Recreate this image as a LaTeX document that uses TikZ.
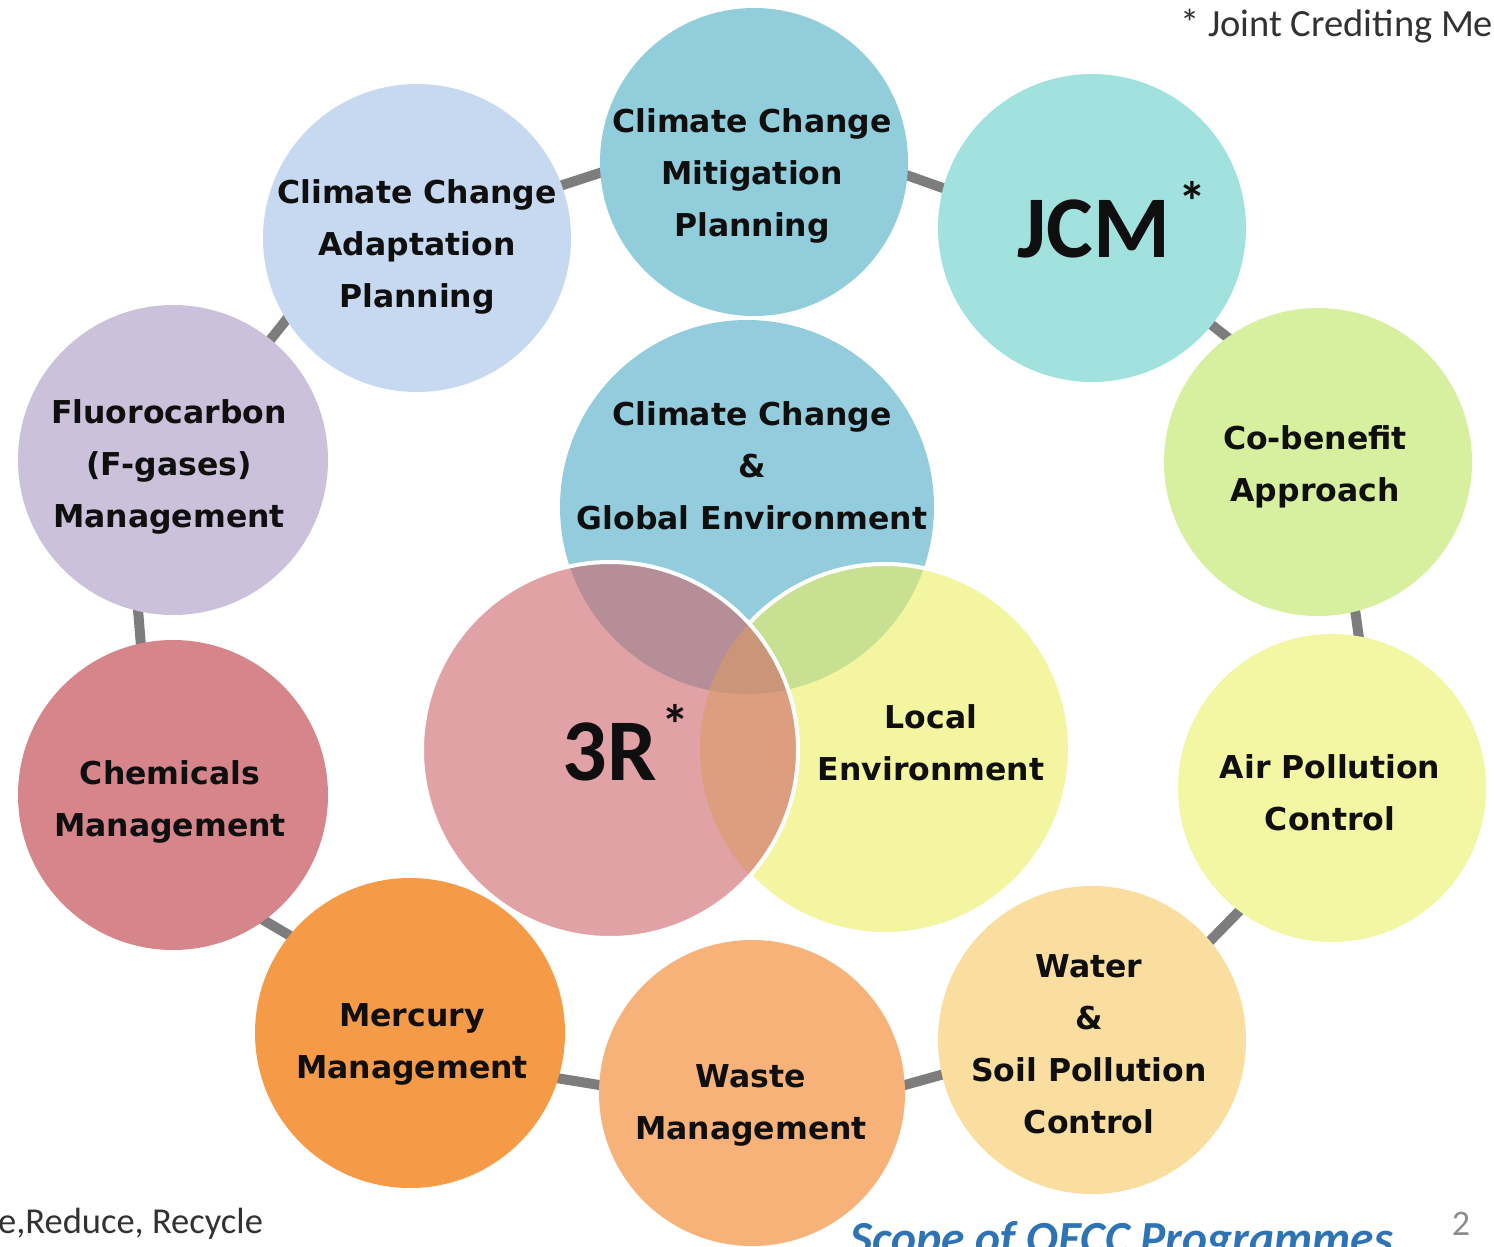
\documentclass[tikz,border=0pt]{standalone}
\usepackage{fontspec}
\setmainfont{Carlito}
\newfontfamily\dvb{DejaVu Sans}
\usetikzlibrary{backgrounds}
\definecolor{cMit}{RGB}{146,205,220}
\definecolor{cClim}{RGB}{147,205,221}
\definecolor{cJcm}{RGB}{162,226,222}
\definecolor{cAda}{RGB}{198,217,240}
\definecolor{cFlu}{RGB}{204,193,218}
\definecolor{cCob}{RGB}{215,240,160}
\definecolor{cChe}{RGB}{214,134,139}
\definecolor{cAir}{RGB}{243,246,163}
\definecolor{cMer}{RGB}{245,154,71}
\definecolor{cWas}{RGB}{247,178,122}
\definecolor{cWat}{RGB}{249,222,160}
\definecolor{cLoc}{RGB}{235,238,97}
\definecolor{cRRR}{RGB}{205,100,105}
\definecolor{cConn}{RGB}{125,125,125}
\definecolor{cTxt}{RGB}{15,15,15}
\definecolor{cNote}{RGB}{50,50,50}
\definecolor{cBlue}{RGB}{46,116,181}
\definecolor{cPage}{RGB}{140,140,140}
\newcommand\sTop{\rule{0pt}{24pt}}
\newcommand\sBot{\rule[-8pt]{0pt}{8pt}}
\begin{document}
\begin{tikzpicture}[x=1pt,y=-1pt,
  circ/.style={circle, inner sep=0pt, outer sep=0pt, minimum size=#1},
  conn/.style={draw=cConn, line width=10pt, shorten <=-14pt, shorten >=-14pt},
  lbl/.style={align=center, inner sep=0pt, text=cTxt,
    font=\dvb\bfseries\fontsize{31.5}{52}\selectfont},
  big/.style={inner sep=0pt, anchor=base, text=cTxt,
    font=\bfseries\fontsize{88}{88}\selectfont},
  note/.style={inner sep=0pt, text=cNote, font=\fontsize{38.5}{40}\selectfont}]
\useasboundingbox (0,0) rectangle (1494,1247);
\clip (0,0) rectangle (1494,1247);
% outer ring
\node[circ=308, fill=cMit] (mit) at (754,162) {};
\node[circ=308, fill=cJcm] (jcm) at (1092,228) {};
\node[circ=308, fill=cAda] (ada) at (417,238) {};
\node[circ=310, fill=cFlu] (flu) at (173,460) {};
\node[circ=308, fill=cCob] (cob) at (1318,462) {};
\node[circ=310, fill=cChe] (che) at (173,795) {};
\node[circ=308, fill=cAir] (air) at (1332,788) {};
\node[circ=310, fill=cMer] (mer) at (410,1033) {};
\node[circ=306, fill=cWas] (was) at (752,1093) {};
\node[circ=308, fill=cWat] (wat) at (1092,1040) {};
% connectors
\begin{scope}[on background layer]
\draw[conn] (mit.184.8) -- (ada.20.6);
\draw[conn] (mit.355.2) -- (jcm.165.1);
\draw[conn] (jcm.321.5) -- (cob.126.9);
\draw[conn] (cob.284.6) -- (air.80.6);
\draw[conn] (air.233.4) -- (wat.40.3);
\draw[conn] (wat.193.3) -- (was.3);
\draw[conn] (was.177.4) -- (mer.343.5);
\draw[conn] (mer.141.6) -- (che.306.8);
\draw[conn] (che.102.9) -- (flu.257);
\draw[conn] (flu.51.6) -- (ada.212.9);
\end{scope}
% centre cluster
\node[circ=374, fill=cClim] (clim) at (747,507) {};
\node[circ=370, fill=cLoc, fill opacity=0.6] (loc) at (885,749) {};
\node[circ=376, fill=cRRR, fill opacity=0.6, draw=white, line width=4pt] (rrr) at (610,750) {};
\begin{scope}[even odd rule]
\clip (0,0) rectangle (1494,1247) (rrr.center) circle[radius=188];
\draw[white, line width=4pt] (loc.center) circle[radius=185];
\end{scope}
% labels
\node[lbl] (tmit) at (752,176) {\sTop Climate Change\\Mitigation\\Planning\sBot};
\node[lbl] (tada) at (417,247.5) {\sTop Climate Change\\Adaptation\\Planning\sBot};
\node[lbl] (tflu) at (169,467.5) {\sTop Fluorocarbon\\(F-gases)\\Management\sBot};
\node[lbl] (tclim) at (752,469.5) {\sTop Climate Change\\\&\\Global Environment\sBot};
\node[lbl] (tcob) at (1315,467.5) {\sTop Co-benefit\\Approach\sBot};
\node[lbl] (tloc) at (931,746.5) {\sTop Local\\Environment\sBot};
\node[lbl] (tche) at (170,802.5) {\sTop Chemicals\\Management\sBot};
\node[lbl] (tair) at (1330,796.5) {\sTop Air Pollution\\Control\sBot};
\node[lbl] (tmer) at (412,1044.5) {\sTop Mercury\\Management\sBot};
\node[lbl] (twas) at (751,1105.5) {\sTop Waste\\Management\sBot};
\node[lbl] (twat) at (1089,1047) {\sTop Water\\\&\\Soil Pollution\\Control\sBot};
\node[big] (tjcm) at (1094,257) {JCM\rlap{\hspace{8pt}\raisebox{36pt}{\fontsize{56}{56}\selectfont *}}};
\node[big] (trrr) at (610,780) {3R\rlap{\hspace{4pt}\raisebox{36pt}{\fontsize{56}{56}\selectfont *}}};
% notes
\node[note, anchor=base west] (njcm) at (1180,37) {* Joint Crediting Me};
\node[note, anchor=base east, font=\fontsize{36.5}{40}\selectfont] (nrrr) at (263,1233) {e,Reduce, Recycle};
\node[inner sep=0pt, anchor=base west, text=cBlue, font=\bfseries\itshape\fontsize{47.5}{50}\selectfont] (title) at (850,1254) {Scope of OECC Programmes};
\node[inner sep=0pt, anchor=base, text=cPage, font=\fontsize{36}{40}\selectfont] (page) at (1461,1235) {2};
\end{tikzpicture}
\end{document}
